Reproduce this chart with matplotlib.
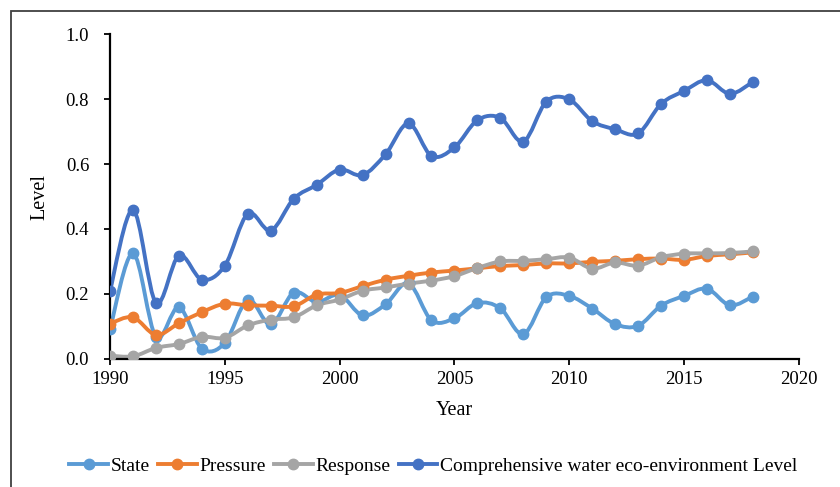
import numpy as np
import matplotlib
matplotlib.use("Agg")
import matplotlib.pyplot as plt
from matplotlib.path import Path
from matplotlib.patches import PathPatch, Rectangle

years = list(range(1990, 2019))

state = [0.092, 0.325, 0.068, 0.159, 0.032, 0.049, 0.182, 0.106, 0.204, 0.175,
         0.197, 0.134, 0.168, 0.233, 0.119, 0.125, 0.172, 0.156, 0.076, 0.190,
         0.194, 0.155, 0.107, 0.102, 0.164, 0.194, 0.216, 0.165, 0.192]
pressure = [0.109, 0.128, 0.074, 0.110, 0.144, 0.170, 0.165, 0.164, 0.162, 0.198,
            0.203, 0.224, 0.244, 0.256, 0.266, 0.272, 0.279, 0.286, 0.289, 0.294,
            0.294, 0.299, 0.302, 0.307, 0.309, 0.305, 0.317, 0.322, 0.328]
response = [0.010, 0.008, 0.034, 0.046, 0.068, 0.065, 0.103, 0.121, 0.128, 0.165,
            0.183, 0.210, 0.220, 0.232, 0.241, 0.255, 0.280, 0.300, 0.302, 0.307,
            0.312, 0.278, 0.297, 0.287, 0.313, 0.324, 0.325, 0.326, 0.331]
comprehensive = [0.210, 0.459, 0.173, 0.318, 0.244, 0.287, 0.447, 0.395, 0.493, 0.536,
                 0.583, 0.566, 0.630, 0.725, 0.625, 0.651, 0.735, 0.742, 0.669, 0.792,
                 0.799, 0.732, 0.707, 0.694, 0.785, 0.825, 0.858, 0.816, 0.853]

labels = ["State", "Pressure", "Response", "Comprehensive water eco-environment Level"]
colors = ["#5B9BD5", "#ED7D31", "#A5A5A5", "#4472C4"]

plt.rcParams["font.family"] = ["Liberation Serif", "DejaVu Serif"]


def smooth_path(x, y):
    # Excel-style smoothed line: Catmull-Rom segments as cubic Beziers
    p = np.column_stack([x, y]).astype(float)
    ext = np.vstack([p[0], p, p[-1]])
    verts = [p[0]]
    codes = [Path.MOVETO]
    for i in range(len(p) - 1):
        p0, p1, p2, p3 = ext[i], ext[i + 1], ext[i + 2], ext[i + 3]
        verts += [p1 + (p2 - p0) / 6, p2 - (p3 - p1) / 6, p2]
        codes += [Path.CURVE4] * 3
    return Path(verts, codes)


fig = plt.figure(figsize=(8.4, 4.87), dpi=100)
ax = fig.add_axes([0.131, 0.263, 0.82, 0.667])

series = [state, pressure, response, comprehensive]
for vals, col, lab in zip(series, colors, labels):
    ax.add_patch(PathPatch(smooth_path(years, vals), facecolor="none",
                           edgecolor=col, lw=2.8, capstyle="round", zorder=2))
    ax.plot(years, vals, linestyle="none", marker="o", ms=7.5, color=col, zorder=3)
    ax.plot([], [], color=col, lw=2.8, marker="o", ms=7.5, label=lab)

ax.set_xlim(1990, 2020)
ax.set_ylim(0, 1.0)
ax.set_xticks(range(1990, 2021, 5))
ax.set_yticks(np.arange(0, 1.01, 0.2))
ax.set_yticklabels(["%.1f" % v for v in np.arange(0, 1.01, 0.2)])
ax.tick_params(labelsize=13.5, direction="out", length=4, width=1.3)
ax.tick_params(axis="y", pad=11)
ax.tick_params(axis="x", pad=5)
for s in ["top", "right"]:
    ax.spines[s].set_visible(False)
for s in ["left", "bottom"]:
    ax.spines[s].set_linewidth(1.6)
ax.set_xlabel("Year", fontsize=14.5, labelpad=9)
ax.set_ylabel("Level", fontsize=14.5, labelpad=12)

fig.legend(loc="center", bbox_to_anchor=(0.516, 0.043), ncol=4, frameon=False,
           fontsize=14, handlelength=2.0, handletextpad=0.15, columnspacing=0.4)

fig.patches.append(Rectangle((11 / 840, -0.1), 1.2, 1 - 11 / 487 + 0.1,
                             transform=fig.transFigure, fill=False,
                             edgecolor="#404040", lw=1.3))

fig.savefig("out.png", dpi=100)
